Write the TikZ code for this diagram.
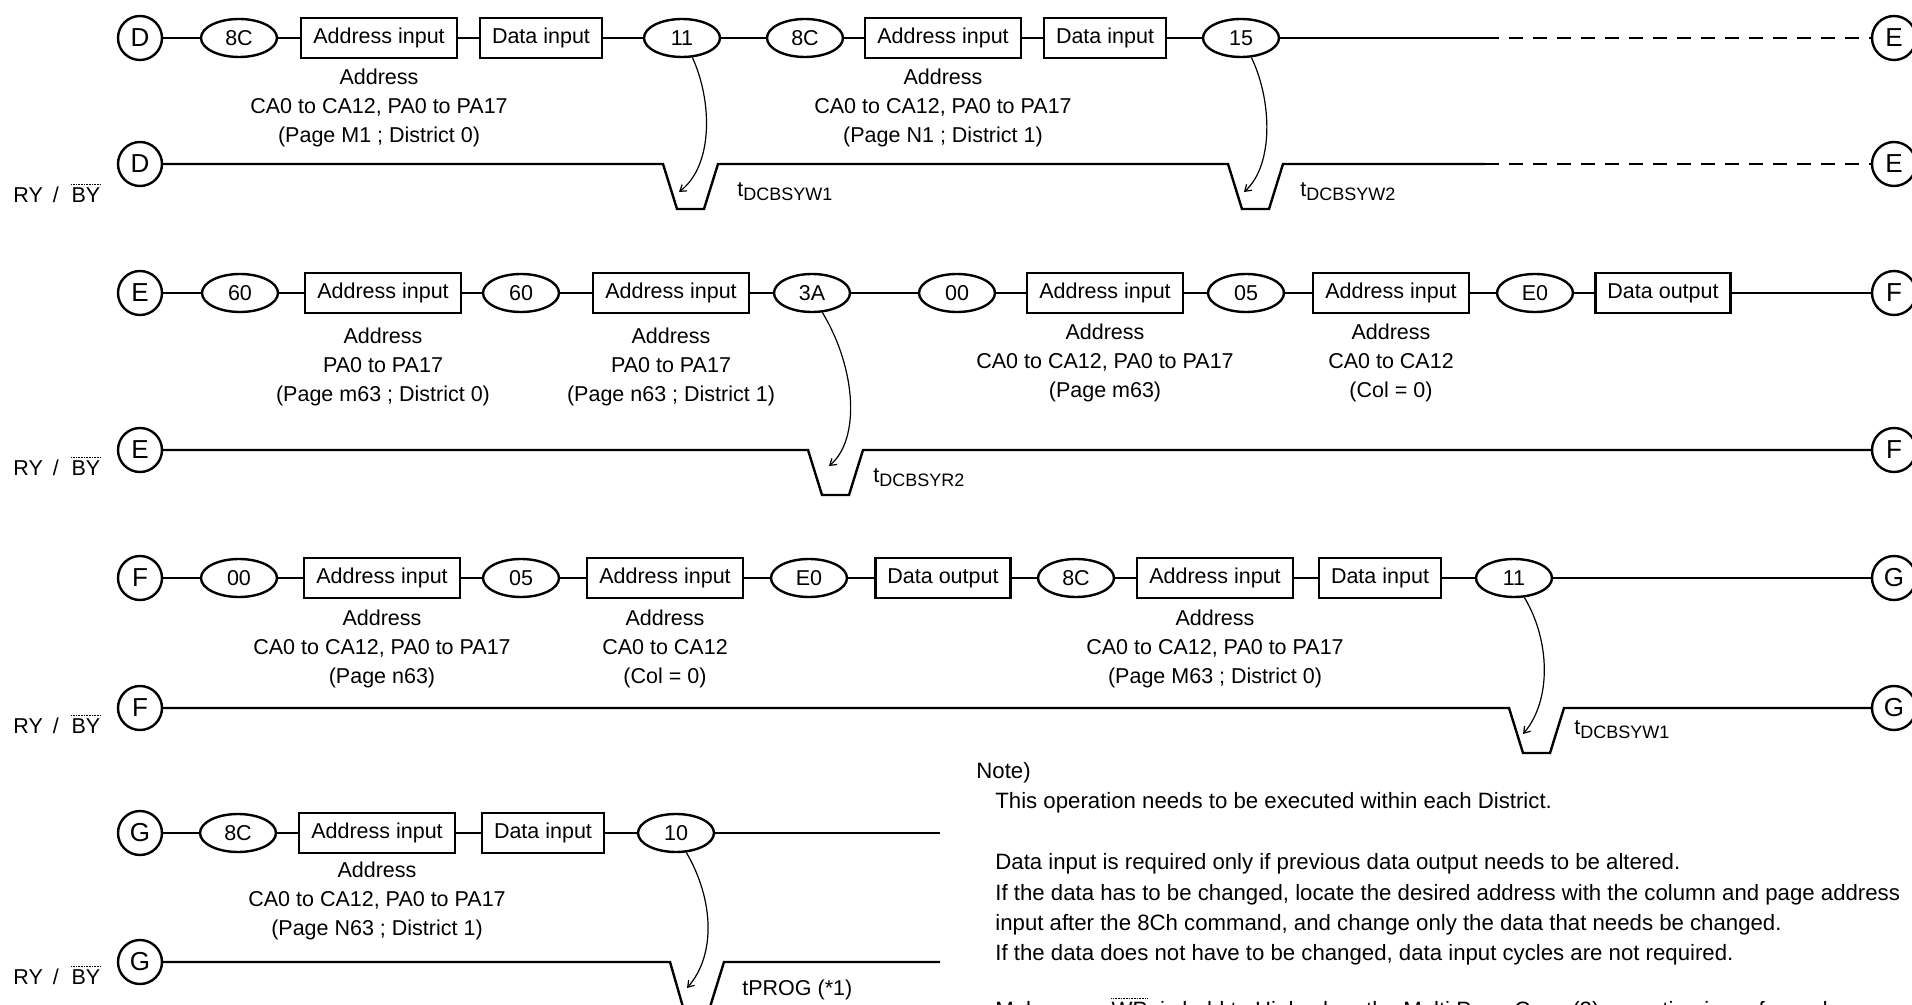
\documentclass[tikz,border=0pt]{standalone}
\usepackage{fontspec}
\setmainfont{Liberation Sans}
\usetikzlibrary{shapes.geometric,arrows.meta}
\newcommand\ovl[1]{\tikz[baseline=(ovlw.base)]{\node[inner sep=0pt,font={}] (ovlw) {#1};
  \draw[line width=0.3pt,dash pattern=on 0.4pt off 0.4pt] ([yshift=1.5pt]ovlw.north west) -- ([yshift=1.5pt]ovlw.north east);}}
\newcommand\tsub[1]{t\raisebox{-2pt}{\fontsize{9}{9}\selectfont #1}}
\begin{document}
\begin{tikzpicture}[x=0.5pt,y=-0.5pt,
  every node/.style={font=\fontsize{10.75}{14.5}\selectfont},
  term/.style={draw,circle,line width=1.2pt,minimum size=22pt,inner sep=0pt,font=\fontsize{13}{13}\selectfont},
  cmd/.style={draw,ellipse,line width=1.2pt,minimum width=38pt,minimum height=19pt,inner sep=0pt},
  blk/.style={draw,rectangle,line width=1.2pt,minimum height=20pt,inner xsep=6pt,inner ysep=0pt},
  wire/.style={line width=1.2pt},
  dwire/.style={line width=1.2pt,dash pattern=on 7pt off 5pt},
  sig/.style={line width=1.2pt,line join=miter},
  tarr/.style={line width=0.6pt,-{Straight Barb[length=3pt,width=4pt]}},
  addr/.style={align=center},
  tlab/.style={anchor=west,inner sep=0pt},
  note/.style={anchor=west,inner sep=0pt,font=\fontsize{11.1}{14.5}\selectfont},
  rylab/.style={anchor=west,inner sep=0pt},
]
\useasboundingbox (0,0) rectangle (1912,1005);
\clip (0,0) rectangle (1912,1005);
\fill[white] (0,0) rectangle (1912,1005);

% ---------------- Row D ----------------
\node[term] (D1) at (140,38) {D};
\node[cmd] (D1a) at (239,38) {8C};
\node[blk] (D1b) at (379,38) {Address input};
\node[blk] (D1c) at (541,38) {Data input};
\node[cmd] (D1d) at (682,38) {11};
\node[cmd] (D1e) at (805,38) {8C};
\node[blk] (D1f) at (943,38) {Address input};
\node[blk] (D1g) at (1105,38) {Data input};
\node[cmd] (D1h) at (1241,38) {15};
\coordinate (D1s) at (1485,38);
\node[term] (E1) at (1894,38) {E};
\foreach \a/\b in {D1/D1a,D1a/D1b,D1b/D1c,D1c/D1d,D1d/D1e,D1e/D1f,D1f/D1g,D1g/D1h,D1h/D1s}
  \draw[wire] (\a) -- (\b);
\draw[dwire] (D1s) -- (E1);
\node[addr] (D1t1) at (379,108) {Address\\CA0 to CA12, PA0 to PA17\\(Page M1 ; District 0)};
\node[addr] (D1t2) at (943,108) {Address\\CA0 to CA12, PA0 to PA17\\(Page N1 ; District 1)};

\node[term] (D2) at (140,164) {D};
\node[term] (E2) at (1894,164) {E};
\coordinate (D2s) at (1485,164);
\draw[sig] (D2) -- (663,164) -- ++(14,45) -- ++(27,0) -- ++(14,-45)
  -- (1228,164) -- ++(14,45) -- ++(27,0) -- ++(14,-45) -- (D2s);
\draw[dwire] (D2s) -- (E2);
\coordinate (tipD1) at (679,192);
\coordinate (tipD2) at (1244,192);
\draw[tarr] (D1d.-62) .. controls (712,100) and (714,165) .. (tipD1);
\draw[tarr] (D1h.-62) .. controls (1272,100) and (1274,165) .. (tipD2);
\node[tlab] (lD1) at (737,192) {\tsub{DCBSYW1}};
\node[tlab] (lD2) at (1300,192) {\tsub{DCBSYW2}};
\node[rylab] (R1) at (13,193) {RY\hspace{5pt}/\hspace{6pt}\ovl{BY}};

% ---------------- Row E ----------------
\node[term] (E3) at (140,293) {E};
\node[cmd] (E3a) at (240,293) {60};
\node[blk] (E3b) at (383,293) {Address input};
\node[cmd] (E3c) at (521,293) {60};
\node[blk] (E3d) at (671,293) {Address input};
\node[cmd] (E3e) at (812,293) {3A};
\node[cmd] (E3f) at (957,293) {00};
\node[blk] (E3g) at (1105,293) {Address input};
\node[cmd] (E3h) at (1246,293) {05};
\node[blk] (E3i) at (1391,293) {Address input};
\node[cmd] (E3j) at (1535,293) {E0};
\node[blk] (E3k) at (1663,293) {Data output};
\node[term] (F3) at (1894,293) {F};
\foreach \a/\b in {E3/E3a,E3a/E3b,E3b/E3c,E3c/E3d,E3d/E3e,E3e/E3f,E3f/E3g,E3g/E3h,E3h/E3i,E3i/E3j,E3j/E3k,E3k/F3}
  \draw[wire] (\a) -- (\b);
\node[addr] (E3t1) at (383,367) {Address\\PA0 to PA17\\(Page m63 ; District 0)};
\node[addr] (E3t2) at (671,367) {Address\\PA0 to PA17\\(Page n63 ; District 1)};
\node[addr] (E3t3) at (1105,363) {Address\\CA0 to CA12, PA0 to PA17\\(Page m63)};
\node[addr] (E3t4) at (1391,363) {Address\\CA0 to CA12\\(Col = 0)};

\node[term] (E4) at (140,450) {E};
\node[term] (F4) at (1894,450) {F};
\draw[sig] (E4) -- (808,450) -- ++(14,45) -- ++(27,0) -- ++(14,-45) -- (F4);
\coordinate (tipE) at (829,466);
\draw[tarr] (E3e.-62) .. controls (857,370) and (860,440) .. (tipE);
\node[tlab] (lE) at (873,478) {\tsub{DCBSYR2}};
\node[rylab] (R2) at (13,466) {RY\hspace{5pt}/\hspace{6pt}\ovl{BY}};

% ---------------- Row F ----------------
\node[term] (F5) at (140,578) {F};
\node[cmd] (F5a) at (239,578) {00};
\node[blk] (F5b) at (382,578) {Address input};
\node[cmd] (F5c) at (521,578) {05};
\node[blk] (F5d) at (665,578) {Address input};
\node[cmd] (F5e) at (809,578) {E0};
\node[blk] (F5f) at (943,578) {Data output};
\node[cmd] (F5g) at (1076,578) {8C};
\node[blk] (F5h) at (1215,578) {Address input};
\node[blk] (F5i) at (1380,578) {Data input};
\node[cmd] (F5j) at (1514,578) {11};
\node[term] (G5) at (1894,578) {G};
\foreach \a/\b in {F5/F5a,F5a/F5b,F5b/F5c,F5c/F5d,F5d/F5e,F5e/F5f,F5f/F5g,F5g/F5h,F5h/F5i,F5i/F5j,F5j/G5}
  \draw[wire] (\a) -- (\b);
\node[addr] (F5t1) at (382,649) {Address\\CA0 to CA12, PA0 to PA17\\(Page n63)};
\node[addr] (F5t2) at (665,649) {Address\\CA0 to CA12\\(Col = 0)};
\node[addr] (F5t3) at (1215,649) {Address\\CA0 to CA12, PA0 to PA17\\(Page M63 ; District 0)};

\node[term] (F6) at (140,708) {F};
\node[term] (G6) at (1894,708) {G};
\draw[sig] (F6) -- (1509,708) -- ++(14,45) -- ++(27,0) -- ++(14,-45) -- (G6);
\coordinate (tipF) at (1523,734);
\draw[tarr] (F5j.-62) .. controls (1550,640) and (1552,700) .. (tipF);
\node[tlab] (lF) at (1574,730) {\tsub{DCBSYW1}};
\node[rylab] (R3) at (13,724) {RY\hspace{5pt}/\hspace{6pt}\ovl{BY}};

% ---------------- Row G ----------------
\node[term] (G7) at (140,833) {G};
\node[cmd] (G7a) at (238,833) {8C};
\node[blk] (G7b) at (377,833) {Address input};
\node[blk] (G7c) at (543,833) {Data input};
\node[cmd] (G7d) at (676,833) {10};
\coordinate (G7s) at (940,833);
\foreach \a/\b in {G7/G7a,G7a/G7b,G7b/G7c,G7c/G7d,G7d/G7s}
  \draw[wire] (\a) -- (\b);
\node[addr] (G7t1) at (377,901) {Address\\CA0 to CA12, PA0 to PA17\\(Page N63 ; District 1)};

\node[term] (G8) at (140,962) {G};
\coordinate (G8s) at (940,962);
\draw[sig] (G8) -- (670,962) -- ++(13,45) -- ++(27,0) -- ++(14,-45) -- (G8s);
\coordinate (tipG) at (687,988);
\draw[tarr] (G7d.-62) .. controls (714,900) and (716,955) .. (tipG);
\node[tlab] (lG) at (742,990) {tPROG (*1)};
\node[rylab] (R4) at (13,975) {RY\hspace{5pt}/\hspace{6pt}\ovl{BY}};

% ---------------- Note ----------------
\node[note] (n0) at (976,773) {Note)};
\node[note] (n1) at (995,803) {This operation needs to be executed within each District.};
\node[note] (n2) at (995,864) {Data input is required only if previous data output needs to be altered.};
\node[note] (n3) at (995,895) {If the data has to be changed, locate the desired address with the column and page address};
\node[note] (n4) at (995,925) {input after the 8Ch command, and change only the data that needs be changed.};
\node[note] (n5) at (995,955) {If the data does not have to be changed, data input cycles are not required.};
\node[note] (n6) at (995,1010) {Make sure\hspace{6pt}\ovl{WP}\hspace{6pt}is held to High when the Multi Page Copy (2) operation is performed.};
\end{tikzpicture}
\end{document}
